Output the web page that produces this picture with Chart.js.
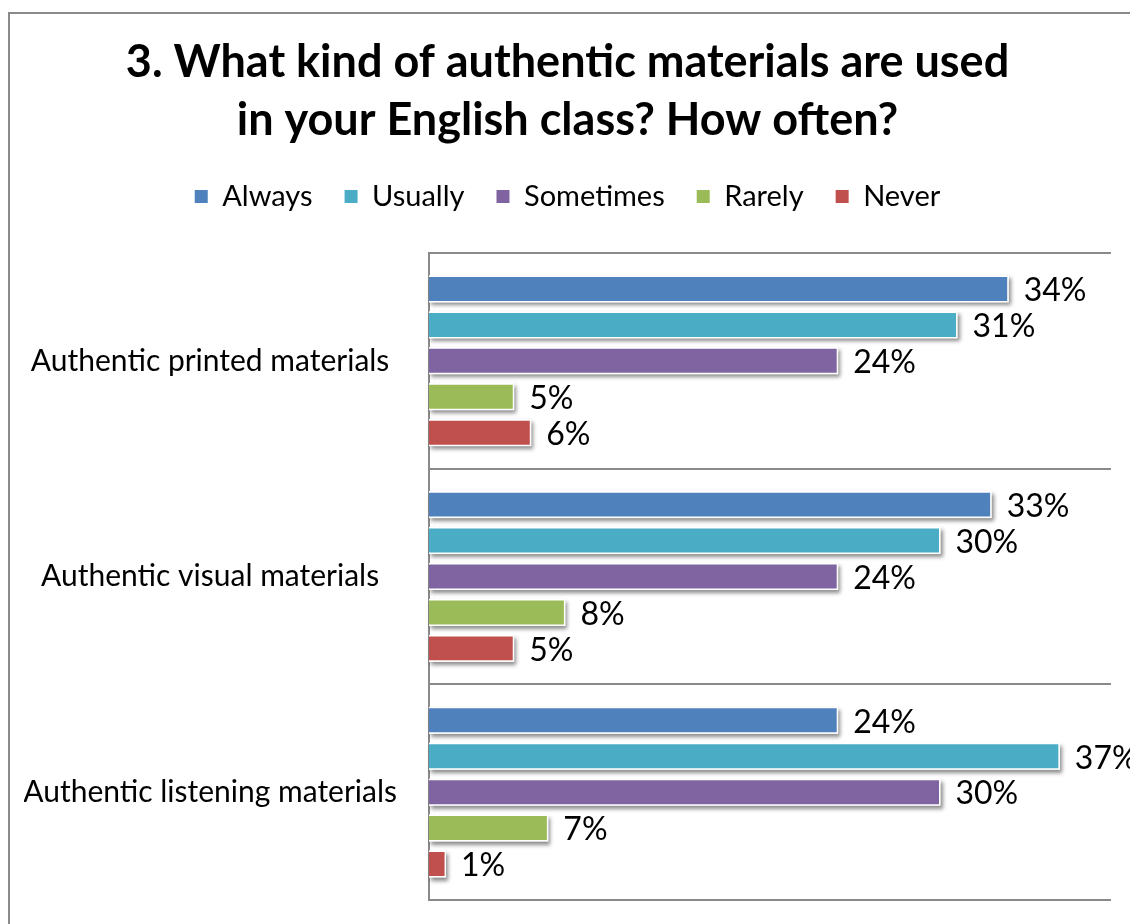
<!DOCTYPE html>
<html>
<head>
<meta charset="utf-8">
<script src="https://cdn.jsdelivr.net/npm/chart.js@4.4.0/dist/chart.umd.min.js"></script>
<style>
  html, body { margin: 0; padding: 0; background: #fff; overflow: hidden; }
  #frame {
    position: absolute; left: 8px; top: 12px;
    width: 1300px; height: 1100px;
    border: 2px solid #8a8a8a; box-sizing: border-box;
  }
  #wrap { position: absolute; left: 0; top: 0; width: 1130px; height: 924px; }
</style>
</head>
<body>
<div id="frame"></div>
<div id="wrap"><canvas id="chart"></canvas></div>
<script>
// Survey answers, percent of respondents
const categories = ['Authentic printed materials', 'Authentic visual materials', 'Authentic listening materials'];
const always = [34, 33, 24];
const usually = [31, 30, 37];
const sometimes = [24, 24, 30];
const rarely = [5, 8, 7];
const never = [6, 5, 1];

const seriesNames = ['Always', 'Usually', 'Sometimes', 'Rarely', 'Never'];
const seriesValues = [always, usually, sometimes, rarely, never];
const seriesColors = ['#4F81BD', '#4BACC6', '#8064A2', '#9BBB59', '#C0504D'];

const FONT = 'Lato, "Open Sans", sans-serif';

// extra room between the legend and the plot
const legendGap = {
    id: 'legendGap',
    beforeInit(chart) {
        const origFit = chart.legend.fit;
        chart.legend.fit = function () {
            origFit.call(this);
            this.height += 32;
        };
    }
};

// soft drop shadow behind each bar
const barShadow = {
    id: 'barShadow',
    beforeDatasetsDraw(chart) {
        const ctx = chart.ctx;
        chart.data.datasets.forEach((ds, i) => {
            chart.getDatasetMeta(i).data.forEach(bar => {
                const left = Math.min(bar.base, bar.x);
                const w = Math.abs(bar.x - bar.base);
                ctx.save();
                ctx.shadowColor = 'rgba(0,0,0,0.45)';
                ctx.shadowBlur = 4;
                ctx.shadowOffsetX = 2;
                ctx.shadowOffsetY = 3;
                ctx.fillStyle = '#fff';
                ctx.fillRect(left, bar.y - bar.height / 2, w, bar.height);
                ctx.restore();
            });
        });
    }
};

// percentage label to the right of each bar
const valueLabels = {
    id: 'valueLabels',
    afterDatasetsDraw(chart) {
        const ctx = chart.ctx;
        ctx.save();
        ctx.font = '32px ' + FONT;
        ctx.fillStyle = '#000';
        ctx.textAlign = 'left';
        ctx.textBaseline = 'middle';
        chart.data.datasets.forEach((ds, i) => {
            chart.getDatasetMeta(i).data.forEach((bar, j) => {
                ctx.fillText(ds.data[j] + '%', bar.x + 15, bar.y + 2);
            });
        });
        ctx.restore();
    }
};

const ctx = document.getElementById('chart').getContext('2d');
new Chart(ctx, {
    type: 'bar',
    data: {
        labels: categories,
        datasets: seriesNames.map((name, i) => ({
            label: name,
            data: seriesValues[i],
            backgroundColor: seriesColors[i],
            borderColor: '#ffffff',
            borderWidth: 1.5,
            categoryPercentage: 0.833,
            barPercentage: 0.75
        }))
    },
    options: {
        indexAxis: 'y',
        responsive: true,
        maintainAspectRatio: false,
        animation: false,
        layout: { padding: { top: 33, right: 19, bottom: 24, left: 24 } },
        plugins: {
            title: {
                display: true,
                text: ['3. What kind of authentic materials are used', 'in your English class? How often?'],
                color: '#000',
                font: { family: FONT, size: 45, weight: 'bold', lineHeight: 1.3 },
                padding: { top: 0, bottom: 0 }
            },
            legend: {
                position: 'top',
                labels: {
                    color: '#000',
                    font: { family: FONT, size: 29 },
                    boxWidth: 13,
                    boxHeight: 13,
                    padding: 32,
                    generateLabels(chart) {
                        return Chart.defaults.plugins.legend.labels.generateLabels(chart)
                            .map(l => Object.assign(l, { lineWidth: 0 }));
                    }
                }
            },
            tooltip: { enabled: false }
        },
        scales: {
            x: { display: false, min: 0, max: 40 },
            y: {
                offset: true,
                afterFit(scale) {
                    scale.width = 405;
                    scale.paddingTop = 0;
                    scale.paddingBottom = 0;
                },
                grid: { color: '#8a8a8a', lineWidth: 2, drawTicks: false, offset: true },
                border: { color: '#8a8a8a', width: 2 },
                ticks: {
                    color: '#000',
                    font: { family: FONT, size: 30 },
                    crossAlign: 'center',
                    padding: 32
                }
            }
        }
    },
    plugins: [legendGap, barShadow, valueLabels]
});
</script>
</body>
</html>
